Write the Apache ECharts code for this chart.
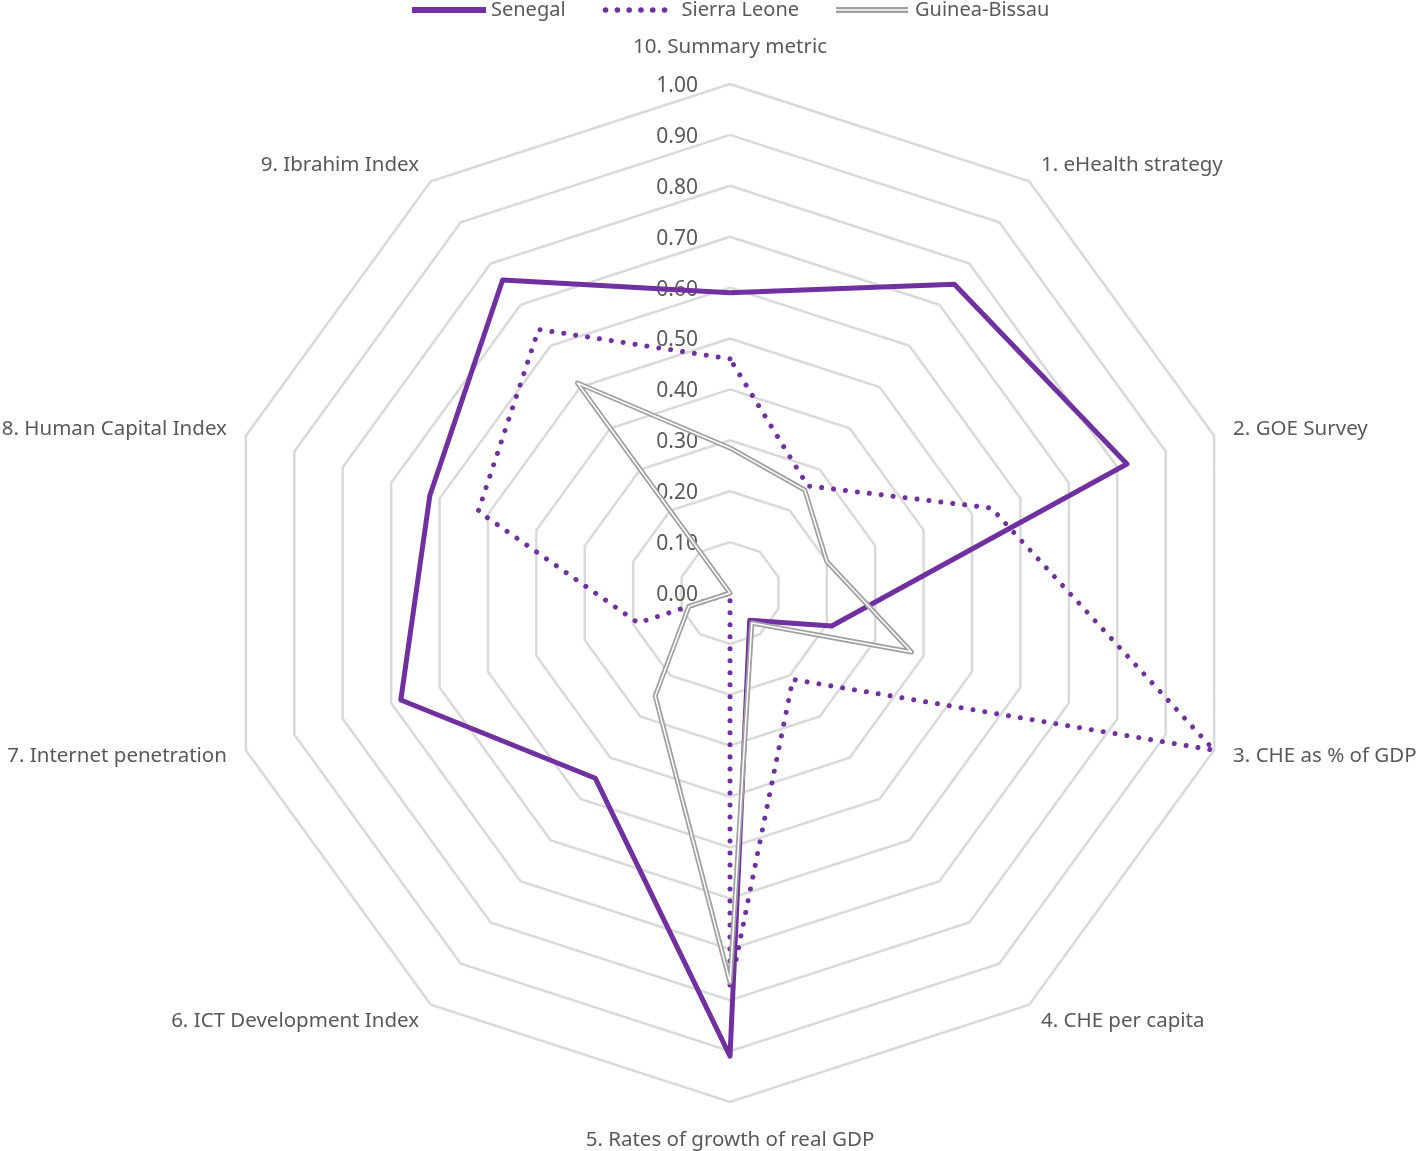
<!DOCTYPE html>
<html>
<head>
    <meta charset="utf-8">
    <title>Radar</title>
    <script src="https://cdn.jsdelivr.net/npm/echarts@6/dist/echarts.min.js"></script>
    <style>
      html, body { margin: 0; padding: 0; background: #fff; }
      #main { width: 1418px; height: 1151px; }
    </style>
</head>
<body>
    <div id="main"></div>
    <script type="text/javascript">

// categories in their numbered order (1..10)
let categories = [
  '1. eHealth strategy', '2. GOE Survey', '3. CHE as % of GDP', '4. CHE per capita',
  '5. Rates of growth of real GDP', '6. ICT Development Index', '7. Internet penetration',
  '8. Human Capital Index', '9. Ibrahim Index', '10. Summary metric'
]
let senegal     = [0.75, 0.82, 0.21, 0.066, 0.91, 0.45, 0.68, 0.62, 0.76, 0.59]
let sierraLeone = [0.26, 0.54, 1.00, 0.21, 0.78, 0.00, 0.19, 0.52, 0.64, 0.46]
let guineaB     = [0.25, 0.20, 0.375, 0.073, 0.765, 0.25, 0.085, 0.00, 0.51, 0.285]
let ticks = [0, 0.1, 0.2, 0.3, 0.4, 0.5, 0.6, 0.7, 0.8, 0.9, 1.0]

// echarts lays indicators out counter-clockwise, the chart goes clockwise from 10 at top
let order = [9, 8, 7, 6, 5, 4, 3, 2, 1, 0]
let pick = arr => order.map(i => arr[i])

let font = 'Noto Sans'
let purple = '#7030A0'
let grey = '#A0A0A0'

// legend icons, all 74x6
let iconSolid = 'path://M0,0H74V6H0Z'
let iconDots = 'path://M0,0M74,6' + [3, 14.8, 26.6, 38.4, 50.2, 62].map(c =>
  'M' + (c - 2.8) + ',3a2.8,2.8 0 1,0 5.6,0a2.8,2.8 0 1,0 -5.6,0').join('')
let iconDouble = 'path://M0,0H72V2.2H0Z M0,3.8H72V6H0Z M74,6'

var option = {
  animation: false,
  legend: {
    top: 0,
    left: 412,
    padding: 0,
    itemWidth: 74,
    itemHeight: 6,
    itemGap: 37,
    height: 20,
    itemStyle: { borderWidth: 0 },
    textStyle: { color: '#595959', fontSize: 20, fontFamily: font, lineHeight: 20 },
    data: [
      { name: 'Senegal', icon: iconSolid },
      { name: 'Sierra Leone', icon: iconDots },
      { name: 'Guinea-Bissau', icon: iconDouble }
    ]
  },
  // tick labels along the top axis only
  grid: { left: 729, top: 86, width: 1, height: 509 },
  xAxis: { show: false, type: 'value' },
  yAxis: {
    type: 'value', min: 0, max: 1, interval: 0.1,
    axisLine: { show: false }, axisTick: { show: false }, splitLine: { show: false },
    axisLabel: {
      margin: 31, color: '#595959', fontSize: 21, fontFamily: font,
      formatter: v => v.toFixed(2)
    },
    data: ticks
  },
  radar: {
    center: [730, 593],
    radius: 509,
    startAngle: 90,
    splitNumber: 10,
    shape: 'polygon',
    nameGap: 20,
    indicator: pick(categories).map(n => ({ name: n, min: 0, max: 1 })),
    axisName: {
      color: '#595959', fontSize: 20.5, fontFamily: font,
      formatter: n => n.startsWith('10.') ? '{top|' + n + '}' : n.startsWith('5.') ? '{bot|' + n + '}' : n,
      rich: {
        top: { color: '#595959', fontSize: 20.5, fontFamily: font, padding: [0, 0, 6, 0] },
        bot: { color: '#595959', fontSize: 20.5, fontFamily: font, padding: [8, 0, 0, 0] }
      }
    },
    axisLine: { show: false },
    axisTick: { show: false },
    axisLabel: { show: false },
    splitArea: { show: false },
    splitLine: { lineStyle: { color: '#D9D9D9', width: 2.5 } }
  },
  series: [
    {
      name: 'Senegal', type: 'radar', symbol: 'none',
      itemStyle: { color: purple },
      lineStyle: { color: purple, width: 5 },
      data: [{ value: pick(senegal), name: 'Senegal' }]
    },
    {
      name: 'Sierra Leone', type: 'radar', symbol: 'none',
      itemStyle: { color: purple },
      lineStyle: { color: purple, width: 5, type: [0.01, 12], cap: 'round' },
      data: [{ value: pick(sierraLeone), name: 'Sierra Leone' }]
    },
    {
      name: 'Guinea-Bissau', type: 'radar', symbol: 'none',
      itemStyle: { color: grey },
      lineStyle: { color: grey, width: 5 },
      data: [{ value: pick(guineaB), name: 'Guinea-Bissau' }]
    },
    {
      name: 'Guinea-Bissau inner', type: 'radar', symbol: 'none',
      itemStyle: { color: '#fff' },
      lineStyle: { color: '#fff', width: 1.5 },
      data: [{ value: pick(guineaB), name: 'Guinea-Bissau inner' }]
    }
  ]
}

echarts.init(document.getElementById('main')).setOption(option)

    </script>
</body>
</html>
